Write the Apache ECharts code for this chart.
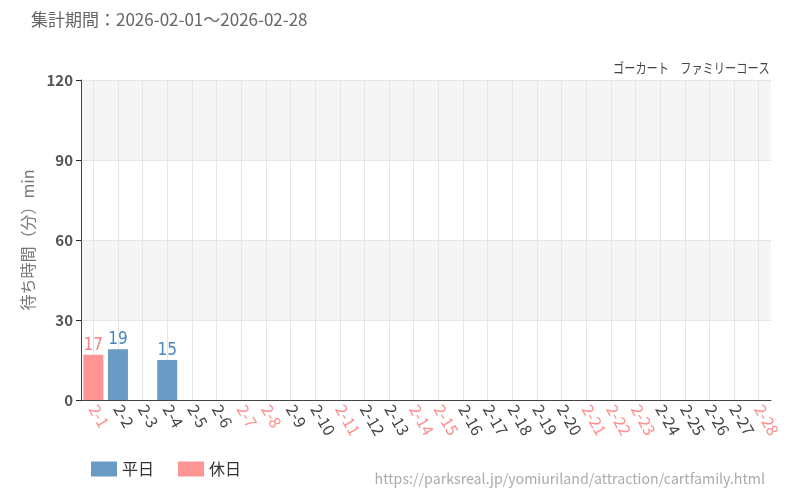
<!DOCTYPE html>
<html><head><meta charset="utf-8">
<script src="https://cdn.jsdelivr.net/npm/echarts@6/dist/echarts.min.js"></script>
<style>html,body{margin:0;padding:0;background:#fff}#c{width:800px;height:500px}</style>
</head><body><div id="c"></div>
<script>
const categories = ['2-1','2-2','2-3','2-4','2-5','2-6','2-7','2-8','2-9','2-10','2-11','2-12','2-13','2-14','2-15','2-16','2-17','2-18','2-19','2-20','2-21','2-22','2-23','2-24','2-25','2-26','2-27','2-28'];
const holidays = ['2-1','2-7','2-8','2-11','2-14','2-15','2-21','2-22','2-23','2-28'];
const weekdayValues = [null,19,null,15,null,null,null,null,null,null,null,null,null,null,null,null,null,null,null,null,null,null,null,null,null,null,null,null];
const holidayValues = [17,null,null,null,null,null,null,null,null,null,null,null,null,null,null,null,null,null,null,null,null,null,null,null,null,null,null,null];
const yTicks = [0,30,60,90,120];

const FONT = '"Noto Sans CJK JP","Noto Sans",sans-serif';
const NARROW = '"DejaVu Sans Condensed","Liberation Sans Narrow",sans-serif';
const chart = echarts.init(document.getElementById('c'));
chart.setOption({
  animation:false,
  textStyle:{fontFamily:FONT},
  graphic:[
    {type:'text',left:31,top:11,style:{text:'集計期間：2026-02-01～2026-02-28',fill:'#666',font:'17px '+FONT}},
    {type:'text',x:613,y:61,scaleX:0.8,style:{text:'ゴーカート　ファミリーコース',fill:'#444',font:'14px '+FONT}},
    {type:'text',right:35,top:472,style:{text:'https://parksreal.jp/yomiuriland/attraction/cartfamily.html',fill:'#aaa',font:'14.2px '+FONT}}
  ],
  legend:{left:86,top:456,icon:'rect',itemWidth:26,itemHeight:15,itemGap:24,textStyle:{fontSize:16,color:'#333'},data:['平日','休日']},
  grid:{left:81,right:29,top:80,bottom:100},
  xAxis:{type:'category',data:categories,
    axisLine:{lineStyle:{color:'#444'}},
    axisTick:{alignWithLabel:true,lineStyle:{color:'#222'}},
    splitLine:{show:true,alignWithLabel:true,lineStyle:{color:'#e6e6e6'}},
    axisLabel:{interval:0,rotate:-60,fontSize:16,margin:6,
      color:(v)=>holidays.includes(v)?'#ff8c8c':'#444'}},
  yAxis:{type:'value',min:yTicks[0],max:yTicks[yTicks.length-1],interval:30,
    name:'待ち時間（分）min',nameLocation:'middle',nameGap:45,nameRotate:90,
    nameTextStyle:{fontSize:16,color:'#777'},
    axisLine:{show:true,lineStyle:{color:'#444'}},
    axisTick:{show:true,lineStyle:{color:'#222'}},
    axisLabel:{fontSize:15,color:'#555',fontWeight:'bold'},
    splitLine:{show:true,lineStyle:{color:'#e6e6e6'}},
    splitArea:{show:true,areaStyle:{color:['#fff','#f5f5f5']}}},
  series:[
    {name:'平日',type:'bar',stack:'a',data:weekdayValues,barWidth:20,
     itemStyle:{color:'#6a9bc4'},
     label:{show:true,position:'top',distance:1,color:'#4a86bd',fontSize:17,fontFamily:NARROW}},
    {name:'休日',type:'bar',stack:'a',data:holidayValues,barWidth:20,
     itemStyle:{color:'#ff9494'},
     label:{show:true,position:'top',distance:1,color:'#ff8080',fontSize:17,fontFamily:NARROW}}
  ]
});
</script></body></html>
